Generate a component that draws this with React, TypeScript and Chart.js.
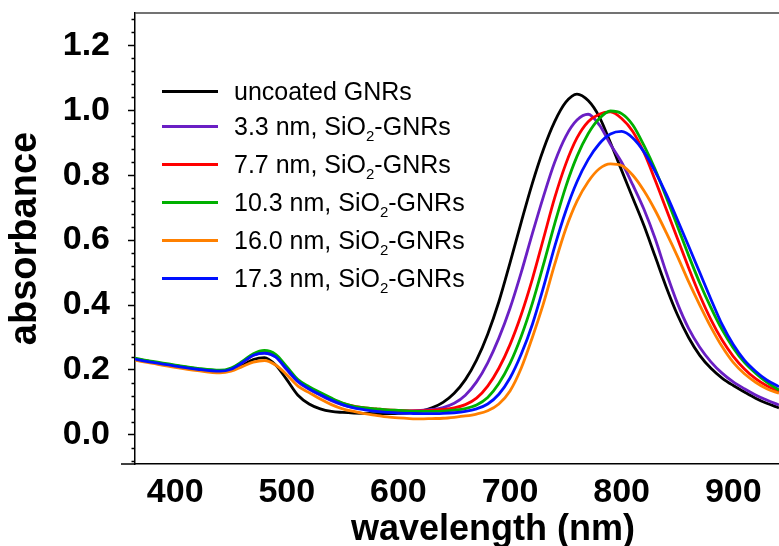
import React, { useEffect, useRef } from "react";
import { Chart, registerables } from "chart.js";

Chart.register(...registerables);

// ---------- data ----------
const wavelengths = [
  364, 380, 400, 420,
  440, 450, 460, 470, 480, 490, 500, 510, 520, 530,
  540, 550, 560, 570, 580, 590, 600, 610, 620, 630,
  640, 650, 660, 670, 680, 690, 700, 710, 720, 730,
  740, 750, 760, 770, 780, 790, 800, 810, 820, 830,
  840, 850, 860, 870, 880, 890, 900, 910, 920, 930,
  941,
];

const uncoated = [
  0.232, 0.223, 0.212, 0.202,
  0.194, 0.199, 0.214, 0.232, 0.238, 0.215, 0.170, 0.122, 0.095, 0.080,
  0.072, 0.069, 0.067, 0.066, 0.065, 0.065, 0.066, 0.068, 0.073, 0.083,
  0.100, 0.128, 0.170, 0.230, 0.310, 0.410, 0.530, 0.655, 0.775, 0.880,
  0.965, 1.025, 1.050, 1.030, 0.980, 0.900, 0.815, 0.730, 0.645, 0.550,
  0.455, 0.370, 0.300, 0.245, 0.205, 0.175, 0.152, 0.132, 0.113, 0.097,
  0.083,
];

const shell33 = [
  0.234, 0.224, 0.213, 0.203,
  0.197, 0.203, 0.222, 0.245, 0.252, 0.240, 0.200, 0.163, 0.140, 0.122,
  0.105, 0.092, 0.084, 0.080, 0.077, 0.075, 0.074, 0.074, 0.075, 0.078,
  0.084, 0.097, 0.122, 0.163, 0.222, 0.298, 0.390, 0.500, 0.620, 0.735,
  0.840, 0.920, 0.970, 0.988, 0.955, 0.895, 0.840, 0.770, 0.695, 0.605,
  0.500, 0.405, 0.328, 0.270, 0.225, 0.190, 0.163, 0.142, 0.123, 0.107,
  0.092,
];

const shell77 = [
  0.234, 0.224, 0.213, 0.203,
  0.197, 0.203, 0.222, 0.246, 0.254, 0.243, 0.205, 0.167, 0.145, 0.127,
  0.110, 0.097, 0.088, 0.083, 0.080, 0.077, 0.075, 0.074, 0.074, 0.075,
  0.078, 0.083, 0.093, 0.113, 0.150, 0.205, 0.278, 0.370, 0.480, 0.605,
  0.730, 0.835, 0.915, 0.965, 0.988, 0.995, 0.975, 0.935, 0.870, 0.785,
  0.695, 0.605, 0.515, 0.430, 0.355, 0.292, 0.242, 0.203, 0.173, 0.151,
  0.133,
];

const shell103 = [
  0.236, 0.226, 0.215, 0.205,
  0.199, 0.206, 0.226, 0.250, 0.260, 0.248, 0.210, 0.170, 0.148, 0.130,
  0.113, 0.098, 0.088, 0.083, 0.080, 0.077, 0.075, 0.073, 0.072, 0.072,
  0.073, 0.076, 0.081, 0.092, 0.115, 0.158, 0.220, 0.303, 0.405, 0.525,
  0.650, 0.765, 0.858, 0.928, 0.975, 0.998, 0.990, 0.955, 0.892, 0.818,
  0.732, 0.643, 0.553, 0.468, 0.392, 0.324, 0.268, 0.223, 0.190, 0.162,
  0.138,
];

const shell160 = [
  0.230, 0.220, 0.208, 0.198,
  0.191, 0.196, 0.210, 0.224, 0.229, 0.215, 0.185, 0.150, 0.130, 0.110,
  0.093, 0.080, 0.072, 0.065, 0.060, 0.055, 0.052, 0.050, 0.049, 0.050,
  0.051, 0.054, 0.058, 0.064, 0.074, 0.095, 0.135, 0.205, 0.300, 0.405,
  0.525, 0.635, 0.720, 0.780, 0.820, 0.835, 0.830, 0.800, 0.752, 0.692,
  0.623, 0.550, 0.472, 0.400, 0.332, 0.272, 0.223, 0.188, 0.162, 0.142,
  0.128,
];

const shell173 = [
  0.233, 0.223, 0.212, 0.202,
  0.196, 0.202, 0.222, 0.245, 0.252, 0.240, 0.203, 0.165, 0.142, 0.124,
  0.107, 0.093, 0.083, 0.077, 0.072, 0.069, 0.067, 0.066, 0.065, 0.065,
  0.066, 0.068, 0.072, 0.080, 0.095, 0.125, 0.175, 0.248, 0.340, 0.455,
  0.580, 0.690, 0.780, 0.848, 0.897, 0.927, 0.935, 0.915, 0.872, 0.812,
  0.742, 0.663, 0.582, 0.500, 0.418, 0.340, 0.278, 0.230, 0.196, 0.169,
  0.148,
];

const seriesLabels = [
  "uncoated GNRs",
  "3.3 nm, SiO2-GNRs",
  "7.7 nm, SiO2-GNRs",
  "10.3 nm, SiO2-GNRs",
  "16.0 nm, SiO2-GNRs",
  "17.3 nm, SiO2-GNRs",
];
const seriesValues = [uncoated, shell33, shell77, shell103, shell160, shell173];
const seriesColors = ["#000000", "#6a1fc4", "#ff0000", "#00b000", "#ff8000", "#0010ff"];

const xTickValues = [400, 500, 600, 700, 800, 900];
const yTickValues = [0.0, 0.2, 0.4, 0.6, 0.8, 1.0, 1.2];
const xTitle = "wavelength (nm)";
const yTitle = "absorbance";

const FONT = '"Liberation Sans", Arial, sans-serif';

function renderLabel(label: string) {
  const parts = label.split("SiO2");
  const out: React.ReactNode[] = [];
  parts.forEach((p, i) => {
    if (i > 0) {
      out.push(
        <span key={"s" + i}>
          SiO<sub style={{ fontSize: "15px", verticalAlign: "-6px", lineHeight: 0 }}>2</sub>
        </span>
      );
    }
    out.push(<span key={"p" + i}>{p}</span>);
  });
  return out;
}

export default function App() {
  const canvasRef = useRef<HTMLCanvasElement | null>(null);

  useEffect(() => {
    document.body.style.margin = "0";
    const canvas = canvasRef.current;
    if (!canvas) return;

    const framePlugin = {
      id: "frameAndMinor",
      afterDraw(chart: any) {
        const { ctx, chartArea } = chart;
        const yScale = chart.scales.y;
        ctx.save();
        ctx.strokeStyle = "#000";
        ctx.lineWidth = 1.5;
        // minor ticks on y axis
        const kMin = Math.ceil(yScale.min / 0.04 - 1e-9);
        const kMax = Math.floor(yScale.max / 0.04 + 1e-9);
        for (let k = kMin; k <= kMax; k++) {
          if (k % 5 === 0) continue;
          const py = Math.round(yScale.getPixelForValue(k * 0.04)) + 0.5;
          ctx.beginPath();
          ctx.moveTo(chartArea.left - 3.5, py);
          ctx.lineTo(chartArea.left, py);
          ctx.stroke();
        }
        // top frame
        ctx.strokeStyle = "#444";
        ctx.beginPath();
        ctx.moveTo(chartArea.left, chartArea.top);
        ctx.lineTo(chartArea.right, chartArea.top);
        ctx.stroke();
        // x axis line extension to the left
        ctx.strokeStyle = "#000";
        ctx.beginPath();
        ctx.moveTo(chartArea.left - 14, chartArea.bottom);
        ctx.lineTo(chartArea.left, chartArea.bottom);
        ctx.stroke();
        // x axis title
        ctx.fillStyle = "#000";
        ctx.font = `bold 36px ${FONT}`;
        ctx.textAlign = "center";
        ctx.textBaseline = "middle";
        ctx.fillText(xTitle, chartArea.left + 358, chartArea.bottom + 66);
        ctx.restore();
      },
    };

    const datasets = seriesLabels.map((label, i) => ({
      label: label.replace("SiO2", "SiO\u2082"),
      data: wavelengths.map((w, j) => ({ x: w, y: seriesValues[i][j] })),
      borderColor: seriesColors[i],
      backgroundColor: seriesColors[i],
      borderWidth: 2.8,
      pointRadius: 0,
      cubicInterpolationMode: "monotone" as const,
      fill: false,
      order: seriesLabels.length - i,
    }));

    const chart = new Chart(canvas, {
      type: "line",
      data: { datasets },
      options: {
        animation: false,
        responsive: false,
        devicePixelRatio: 1,
        layout: { padding: { top: 13, left: 0, right: 0, bottom: 0 } },
        plugins: {
          legend: { display: false },
          tooltip: { enabled: false },
        },
        scales: {
          x: {
            type: "linear",
            min: 364,
            max: 941,
            afterFit: (s: any) => {
              s.height = 82;
              s.paddingLeft = 0;
              s.paddingRight = 0;
            },
            afterBuildTicks: (s: any) => {
              s.ticks = xTickValues.map((v) => ({ value: v }));
            },
            ticks: {
              includeBounds: false,
              autoSkip: false,
              maxRotation: 0,
              padding: 0,
              color: "#000",
              font: { family: FONT, size: 34, weight: "bold" },
              callback: (v: any) => String(v),
            },
            grid: { display: false },
            border: { display: true, color: "#000", width: 1.5 },
          },
          y: {
            type: "linear",
            min: -0.09,
            max: 1.3,
            afterFit: (s: any) => {
              s.width = 135;
              s.paddingTop = 0;
              s.paddingBottom = 0;
            },
            afterBuildTicks: (s: any) => {
              s.ticks = yTickValues.map((v) => ({ value: v }));
            },
            ticks: {
              includeBounds: false,
              autoSkip: false,
              padding: 18,
              color: "#000",
              font: { family: FONT, size: 34, weight: "bold" },
              callback: (v: any) => Number(v).toFixed(1),
            },
            grid: {
              display: true,
              drawOnChartArea: false,
              drawTicks: true,
              tickLength: 7,
              tickColor: "#000",
              tickWidth: 1.5,
            },
            border: { display: true, color: "#000", width: 1.5 },
            title: {
              display: true,
              text: yTitle,
              color: "#000",
              font: { family: FONT, size: 38, weight: "bold", lineHeight: 1 },
              padding: { top: 7, bottom: 0 },
            },
          },
        },
      },
      plugins: [framePlugin],
    } as any);

    return () => {
      chart.destroy();
    };
  }, []);

  const legendLeft = 162;
  const firstRowY = 91;
  const rowGap = 38.2;

  return (
    <div style={{ position: "relative", width: 779, height: 546, background: "#fff", overflow: "hidden" }}>
      <canvas ref={canvasRef} width={779} height={546} style={{ display: "block" }} />
      {seriesLabels.map((label, i) => {
        const cy = i === 0 ? firstRowY : firstRowY + 35 + (i - 1) * rowGap;
        return (
          <div
            key={label}
            style={{
              position: "absolute",
              left: legendLeft,
              top: cy - 16,
              height: 32,
              display: "flex",
              alignItems: "center",
              fontFamily: FONT,
              fontSize: "25px",
              color: "#000",
              whiteSpace: "nowrap",
            }}
          >
            <span
              style={{
                display: "inline-block",
                width: 56,
                height: 3,
                background: seriesColors[i],
                marginRight: 16,
              }}
            />
            <span>{renderLabel(label)}</span>
          </div>
        );
      })}
    </div>
  );
}
